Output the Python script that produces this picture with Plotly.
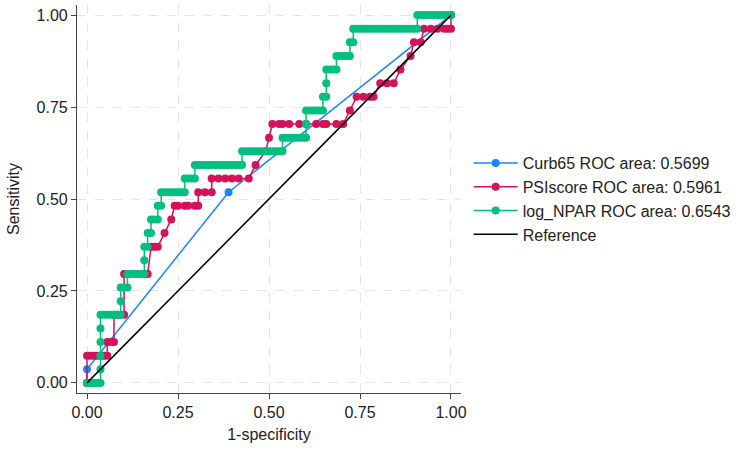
import plotly.graph_objects as go

# ---- data ----
N_NEG = 108   # number of negatives (x resolution)
N_POS = 27    # number of positives

# Curb65 ROC points (false-positive count, true-positive count)
curb_fp = [0, 0, 42, 108]
curb_tp = [0, 1, 14, 27]

# PSIscore ROC points
psi_fp = [0, 0, 1, 2, 3, 4, 5, 6, 6, 7, 8, 8, 9, 10, 11, 11, 13, 15, 17, 18,
          19, 20, 21, 23, 25, 26, 27, 29, 30, 32, 33, 33, 35, 37, 37, 39, 41, 43, 45, 48,
          50, 53, 54, 55, 57, 58, 60, 63, 65, 68, 70, 71, 74, 76, 78, 80, 82, 84, 85, 87,
          89, 91, 93, 96, 97, 99, 100, 102, 104, 106, 107, 108, 108]
psi_tp = [0, 2, 2, 2, 2, 2, 2, 2, 3, 3, 3, 5, 5, 5, 5, 8, 8, 8, 8, 8,
          10, 10, 10, 11, 12, 13, 13, 13, 13, 13, 13, 14, 14, 14, 15, 15, 15, 15, 15, 15,
          16, 17, 18, 19, 19, 19, 19, 19, 19, 19, 19, 19, 19, 19, 20, 21, 21, 21, 21, 22,
          22, 22, 23, 24, 25, 25, 26, 26, 26, 26, 26, 26, 27]

# log_NPAR ROC: one run of thresholds per sensitivity level (continuous predictor)
npar_tp = list(range(0, 28))
npar_fp_start = [0, 4, 4, 4, 4, 4, 10, 10, 12, 17, 17, 18, 19, 21, 22, 29, 32, 46, 58, 65,
                 65, 70, 71, 71, 74, 78, 79, 98]
npar_fp_end = [4, 4, 4, 4, 4, 10, 10, 12, 17, 17, 18, 19, 21, 22, 29, 32, 46, 58, 65, 65,
               70, 71, 71, 74, 78, 79, 98, 108]

names = ["Curb65 ROC area: 0.5699", "PSIscore ROC area: 0.5961",
         "log_NPAR ROC area: 0.6543", "Reference"]
colors = ["#1a85ff", "#d41159", "#00bf7f", "#000000"]

tick_vals = [0, 0.25, 0.5, 0.75, 1]
tick_text = ["0.00", "0.25", "0.50", "0.75", "1.00"]

# ---- build ROC coordinates ----
def rates(fp, tp):
    return [f / N_NEG for f in fp], [t / N_POS for t in tp]

npar_fp, npar_tp_pts = [], []
for t, s, e in zip(npar_tp, npar_fp_start, npar_fp_end):
    for f in range(s, e + 1):
        npar_fp.append(f)
        npar_tp_pts.append(t)

curves = [rates(curb_fp, curb_tp), rates(psi_fp, psi_tp), rates(npar_fp, npar_tp_pts)]

fig = go.Figure()
for i, (x, y) in enumerate(curves):
    fig.add_trace(go.Scatter(
        x=x, y=y, mode="lines+markers", name=names[i], legendgroup=str(i),
        line=dict(color=colors[i], width=1.5),
        marker=dict(color=colors[i], size=8, line=dict(width=0)),
    ))
fig.add_trace(go.Scatter(
    x=[0, 1], y=[0, 1], mode="lines", name=names[3], legendgroup="3",
    line=dict(color=colors[3], width=1.5),
))

axis_common = dict(
    range=[-0.0275, 1.0275], tickvals=tick_vals, ticktext=tick_text,
    showgrid=True, gridcolor="#e4e4e4", griddash="dash", gridwidth=1,
    zeroline=False, showline=True, linecolor="#444444", linewidth=1.2,
    ticks="outside", ticklen=5, tickcolor="#444444", tickwidth=1.2,
    tickfont=dict(size=16, color="#222222"), automargin=False,
)

fig.update_layout(
    width=744, height=449,
    margin=dict(l=77, r=283, t=5, b=56),
    paper_bgcolor="white", plot_bgcolor="white",
    font=dict(family="Liberation Sans, Arial, sans-serif", size=16, color="#222222"),
    xaxis=dict(title=dict(text="1-specificity", font=dict(size=16), standoff=8), **axis_common),
    yaxis=dict(title=dict(text="Sensitivity", font=dict(size=16), standoff=12), **axis_common),
    legend=dict(x=1.02, y=0.5, xanchor="left", yanchor="middle", itemwidth=44,
                font=dict(size=16), tracegroupgap=0, bgcolor="rgba(0,0,0,0)"),
    showlegend=True,
)

fig.write_html("out.html", config={"displayModeBar": False},
               post_script="document.body.style.margin='0';document.body.style.padding='0';")
